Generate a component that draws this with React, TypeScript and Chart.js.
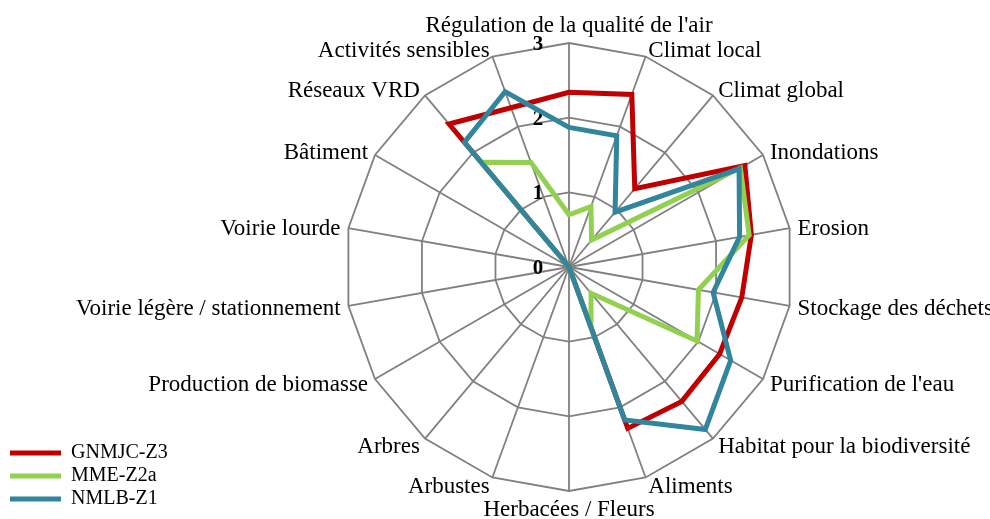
import { useEffect, useRef } from 'react';
import { Chart, registerables } from 'chart.js';

Chart.register(...registerables);

const categories = [
  "Régulation de la qualité de l'air",
  'Climat local',
  'Climat global',
  'Inondations',
  'Erosion',
  'Stockage des déchets',
  "Purification de l'eau",
  'Habitat pour la biodiversité',
  'Aliments',
  'Herbacées / Fleurs',
  'Arbustes',
  'Arbres',
  'Production de biomasse',
  'Voirie légère / stationnement',
  'Voirie lourde',
  'Bâtiment',
  'Réseaux VRD',
  'Activités sensibles',
];

const seriesNames = ['GNMJC-Z3', 'MME-Z2a', 'NMLB-Z1'];
const gnmjcZ3 = [2.34, 2.46, 1.37, 2.72, 2.48, 2.35, 2.33, 2.35, 2.3, 0, 0, 0, 0, 0, 0, 0, 2.5, 2.27];
const mmeZ2a = [0.7, 0.86, 0.47, 2.65, 2.45, 1.76, 1.98, 0.46, 0.86, 0, 0, 0, 0, 0, 0, 0, 1.83, 1.49];
const nmlbZ1 = [1.87, 1.87, 0.96, 2.63, 2.32, 1.96, 2.5, 2.84, 2.18, 0, 0, 0, 0, 0, 0, 0, 2.18, 2.5];
const seriesColors = ['#C00000', '#92D050', '#31859C'];

const tickValues = [0, 1, 2, 3];
const tickLabels = ['0', '1', '2', '3'];

const FONT = "'Liberation Serif', 'Times New Roman', serif";

const labelsPlugin = {
  id: 'radarTextLabels',
  beforeDatasetsDraw(chart: any) {
    const s = chart.scales.r;
    const ctx = chart.ctx;
    ctx.save();
    ctx.fillStyle = '#000';
    ctx.font = `bold 21px ${FONT}`;
    ctx.textAlign = 'center';
    ctx.textBaseline = 'alphabetic';
    tickValues.forEach((v, k) => {
      const d = s.getDistanceFromCenterForValue(v);
      ctx.fillText(tickLabels[k], s.xCenter - 31, s.yCenter - d + 7);
    });
    ctx.restore();
  },
  afterDraw(chart: any) {
    const s = chart.scales.r;
    const ctx = chart.ctx;
    const labels: string[] = chart.data.labels;
    const n = labels.length;
    ctx.save();
    ctx.fillStyle = '#000';
    ctx.font = `23px ${FONT}`;
    ctx.textBaseline = 'alphabetic';
    labels.forEach((lab, i) => {
      const deg = Math.round((i * 360) / n) % 360;
      if (deg === 0) {
        const p = s.getPointPosition(i, s.drawingArea + 11);
        ctx.textAlign = 'center';
        ctx.fillText(lab, p.x, p.y);
      } else if (deg === 180) {
        const p = s.getPointPosition(i, s.drawingArea + 25);
        ctx.textAlign = 'center';
        ctx.fillText(lab, p.x, p.y);
      } else {
        const p = s.getPointPosition(i, s.drawingArea + 8);
        ctx.textAlign = deg < 180 ? 'left' : 'right';
        ctx.fillText(lab, p.x, p.y + 8);
      }
    });
    ctx.restore();
  },
};

export default function App() {
  const ref = useRef<HTMLCanvasElement>(null);

  useEffect(() => {
    if (!ref.current) return;
    const allSeries = [gnmjcZ3, mmeZ2a, nmlbZ1];
    const chart = new Chart(ref.current, {
      type: 'radar',
      data: {
        labels: categories,
        datasets: allSeries.map((values, i) => ({
          label: seriesNames[i],
          data: values,
          borderColor: seriesColors[i],
          backgroundColor: seriesColors[i],
          borderWidth: 5,
          borderCapStyle: 'round',
          borderJoinStyle: 'miter',
          fill: false,
          pointRadius: 0,
          pointHoverRadius: 0,
          tension: 0,
          order: allSeries.length - i,
        })),
      },
      options: {
        responsive: false,
        animation: false,
        layout: { padding: { left: 7, right: 29, top: 22, bottom: 7 } },
        plugins: {
          tooltip: { enabled: false },
          legend: {
            position: 'left',
            align: 'end',
            labels: {
              usePointStyle: true,
              pointStyle: 'line',
              pointStyleWidth: 51,
              padding: 3,
              color: '#000',
              font: { family: FONT, size: 20 },
              sort: (a: any, b: any) => a.datasetIndex - b.datasetIndex,
            },
          },
        },
        scales: {
          r: {
            min: 0,
            max: 3,
            beginAtZero: true,
            ticks: {
              stepSize: 1,
              display: true,
              showLabelBackdrop: false,
              color: 'rgba(0,0,0,0)',
              font: { size: 18 },
              backdropPadding: 12,
            },
            pointLabels: { display: false },
            grid: { color: '#808080', lineWidth: 1.8 },
            angleLines: { color: '#808080', lineWidth: 1.8 },
          },
        },
      },
      plugins: [labelsPlugin],
    } as any);
    return () => chart.destroy();
  }, []);

  return (
    <div style={{ position: 'absolute', left: 0, top: 0, width: 990, height: 519, background: '#fff' }}>
      <canvas ref={ref} width={990} height={519} style={{ display: 'block' }} />
    </div>
  );
}
